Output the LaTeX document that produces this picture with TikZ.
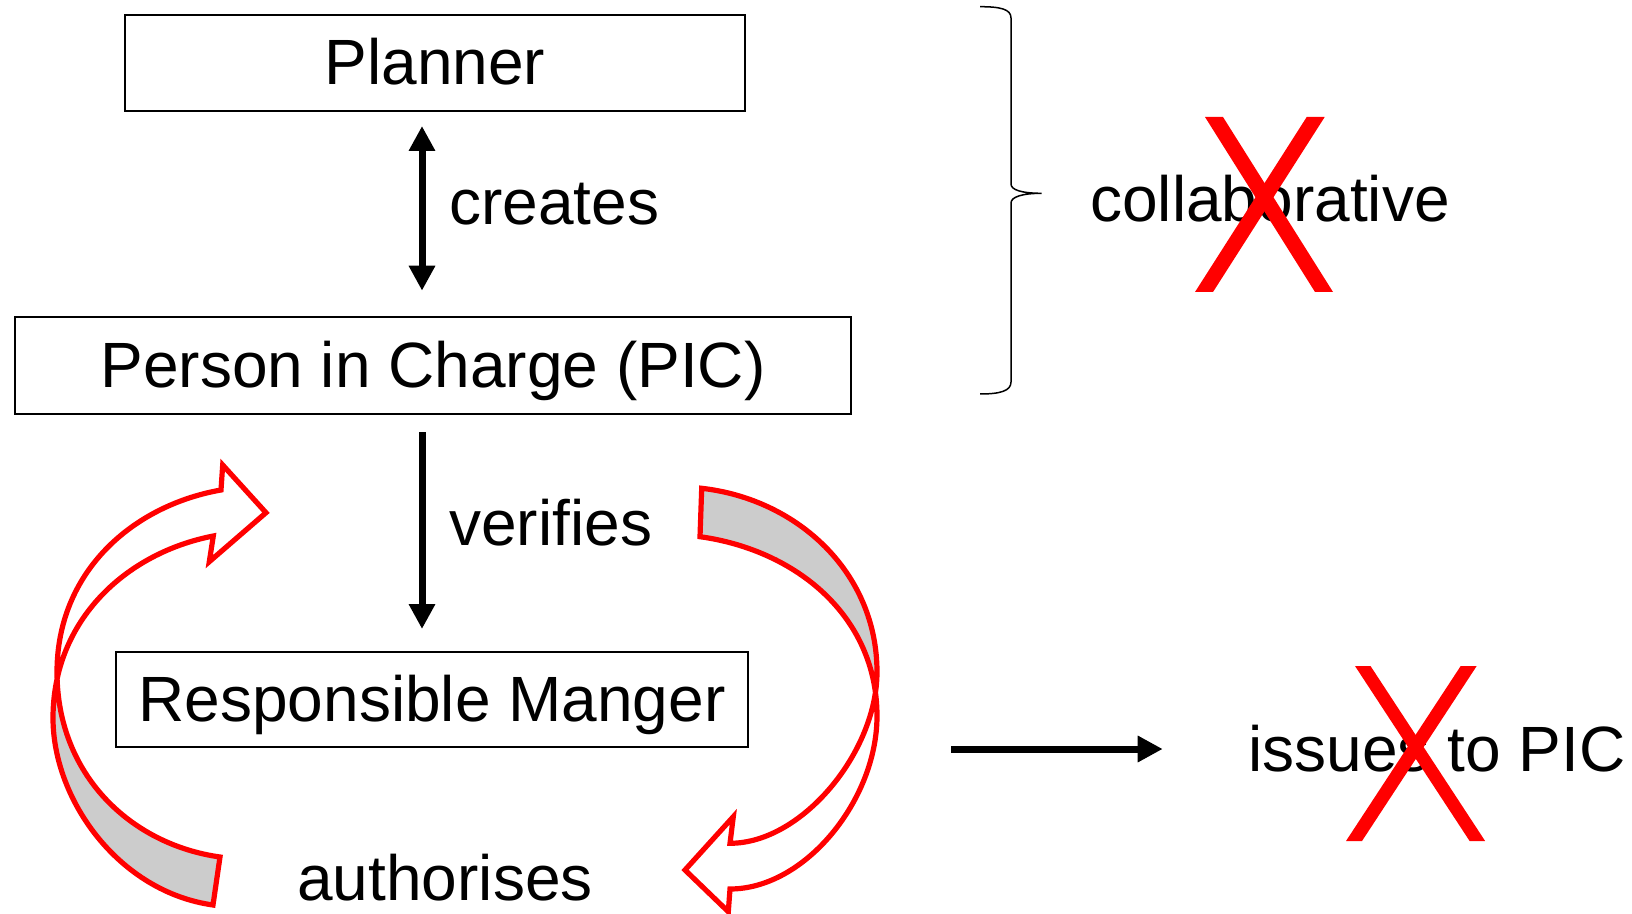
\documentclass[tikz,border=0pt]{standalone}
\usepackage{fontspec}
\setmainfont{Liberation Sans}
\usetikzlibrary{arrows.meta}
\definecolor{xred}{RGB}{255,0,0}
\definecolor{backside}{RGB}{204,204,204}

\begin{document}
\begin{tikzpicture}[x=0.5pt, y=-0.5pt,
    every node/.style={font=\fontsize{32pt}{38pt}\selectfont},
    role/.style={draw, line width=1pt, inner sep=0pt, text height=22pt, text depth=0pt},
    word/.style={anchor=base west, inner sep=0pt},
    link/.style={line width=3.5pt},
    >={Triangle[length=12.5pt, width=12.5pt]},
    swirl/.style={draw=xred, line width=2.6pt},
  ]
  \useasboundingbox (0,0) rectangle (1632,914);

  \node[role, minimum width=310pt, minimum height=48pt] (planner) at (435,63) {Planner};
  \node[role, minimum width=418pt, minimum height=48.5pt] (pic) at (433,365.5) {Person in Charge (PIC)};
  \node[role, minimum width=316pt, minimum height=47.5pt] (rm) at (432,699.5) {Responsible Manger};

  \node[word] (creates) at (449,225) {creates};
  \node[word] (verifies) at (449,545) {verifies};
  \node[word] (authorises) at (297,900) {authorises};
  \node[word] (collab) at (1090,221.7) {collaborative};
  \node[word] (issues) at (1248,771.7) {issues to PIC};

  \draw[link, <->] ([xshift=-6.5pt, yshift=-7pt]planner.south) -- ([xshift=-5.5pt, yshift=12.65pt]pic.north);
  \draw[link, ->] ([xshift=-5.5pt, yshift=-8.5pt]pic.south) -- ([xshift=-5pt, yshift=11pt]rm.north);

  \coordinate (feed) at (951,749);
  \draw[link, ->, shorten >=42.65pt] (feed) -- (feed -| issues.west);

  % curved arrows round the manager box, back side shaded
  \def\leftswirl{(221,490) .. controls (132.4,505.6) and (57,572) .. (57,672)
    .. controls (57,775) and (130.9,844.5) .. (220,857) -- (213,905)
    .. controls (119,891.8) and (53,800) .. (53,718)
    .. controls (53,619.3) and (127,552.7) .. (213.3,536)
    -- (209.3,561.7) -- (266,512.7) -- (222.7,465) -- cycle}
  \def\rightswirl{(701.7,488.3) .. controls (797,499) and (877,572) .. (877,672)
    .. controls (877,752) and (802,843.3) .. (730,843.3)
    -- (733.3,816.7) -- (685,870) -- (728.3,911.7) -- (730,889)
    .. controls (805,889) and (877,800) .. (877,716)
    .. controls (877,616) and (796,550) .. (700,536.7) -- cycle}
  \begin{scope}
    \clip (0,670) rectangle (400,914);
    \fill[backside] \leftswirl;
  \end{scope}
  \begin{scope}
    \clip (600,470) rectangle (900,694);
    \fill[backside] \rightswirl;
  \end{scope}
  \draw[swirl] \leftswirl;
  \draw[swirl] \rightswirl;

  % brace
  \draw[line width=0.75pt] (980,6.7) .. controls (1000,6.7) and (1011,9) .. (1011,18)
    -- (1011,184) .. controls (1011,190) and (1022,193.3) .. (1041.7,193.3)
    .. controls (1022,193.3) and (1011,197) .. (1011,203)
    -- (1011,382) .. controls (1011,391) and (1000,394) .. (980,394);

  % crossed out
  \foreach \xa/\xb/\ya/\yb/\w in {1205/1315/117/292/18, 1306.7/1195/117/292/18,
      1355/1469.6/666/841/15.5, 1460.7/1346/666/841/16}
    \fill[xred] (\xa,\ya) -- ++(\w,0) -- (\xb+\w,\yb) -- (\xb,\yb) -- cycle;
\end{tikzpicture}
\end{document}
